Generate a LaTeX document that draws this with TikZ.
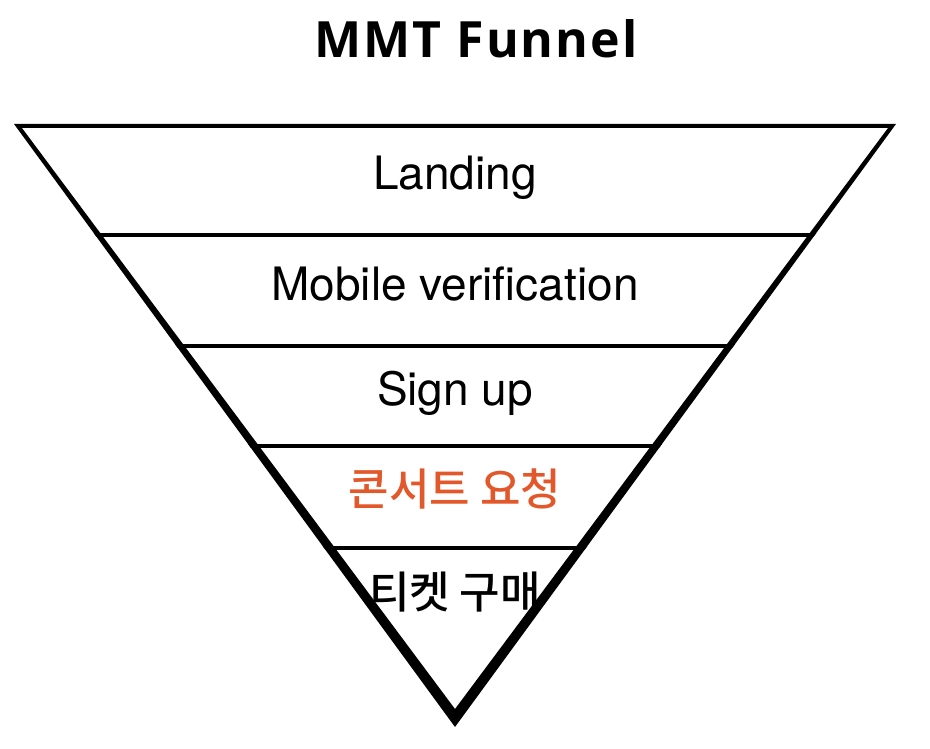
\documentclass[tikz,border=0pt]{standalone}
\usepackage{fontspec}
\setmainfont{TeX Gyre Heros}
\newfontfamily\titlefont{Open Sans}[LetterSpace=4]
\newfontfamily\kofont{Noto Sans CJK KR Medium}
\usetikzlibrary{positioning}
\definecolor{stageorange}{HTML}{E2582A}

\begin{document}
\begin{tikzpicture}[x=1pt,y=-1pt,
  every node/.style={inner sep=0pt},
  stage/.style={anchor=base,font=\fontsize{46}{55}\selectfont},
  kstage/.style={anchor=center,font=\kofont\fontsize{44}{53}\selectfont},
  divider/.style={line width=4pt}]
  \useasboundingbox (0,0) rectangle (930,749);
  % funnel outline, sides get thicker toward the tip
  \coordinate (otl) at (14,124);  \coordinate (otr) at (896,124);  \coordinate (otip) at (455,727);
  \coordinate (itl) at (22,128);  \coordinate (itr) at (888,128);  \coordinate (itip) at (455,709);
  \fill[even odd rule] (otl) -- (otr) -- (otip) -- cycle (itl) -- (itr) -- (itip) -- cycle;
  \begin{scope}
    \clip (otl) -- (otr) -- (otip) -- cycle;
    \draw[divider] (0,235) -- (930,235);
    \draw[divider] (0,346) -- (930,346);
    \draw[divider,line width=3.5pt] (0,446) -- (930,446);
    \draw[divider,line width=3.5pt] (0,548) -- (930,548);
  \end{scope}
  \node[anchor=base,font=\titlefont\bfseries\fontsize{50}{60}\selectfont] (title) at (476,58) {MMT Funnel};
  \node[stage] (landing) at (455,190) {Landing};
  \node[stage] (mobile) at (455,300) {Mobile verification};
  \node[stage] (signup) at (455,405) {Sign up};
  \node[kstage,text=stageorange] (concert) at (455,489) {콘서트 요청};
  \node[kstage] (ticket) at (455,592) {티켓 구매};
\end{tikzpicture}
\end{document}
